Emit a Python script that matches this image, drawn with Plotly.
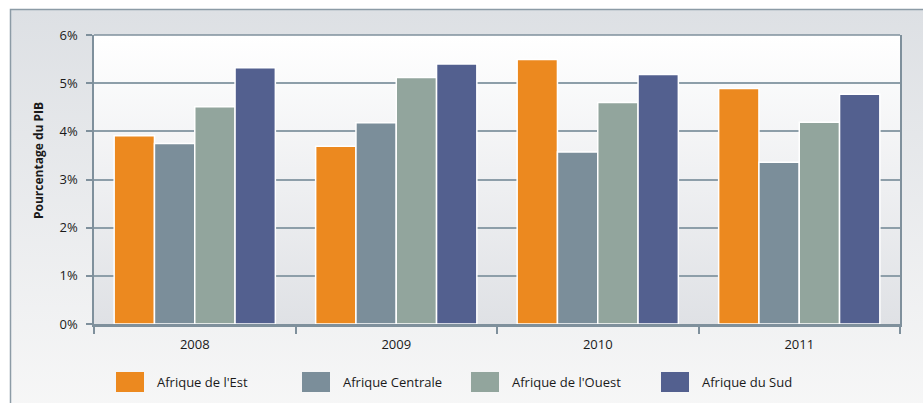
import base64
import plotly.graph_objects as go

# ---- data ----
years = ["2008", "2009", "2010", "2011"]
series_names = ["Afrique de l'Est", "Afrique Centrale", "Afrique de l'Ouest", "Afrique du Sud"]
afrique_est = [3.91, 3.69, 5.49, 4.89]
afrique_centrale = [3.75, 4.18, 3.57, 3.36]
afrique_ouest = [4.51, 5.12, 4.60, 4.19]
afrique_sud = [5.32, 5.40, 5.18, 4.77]
y_ticks = [0, 1, 2, 3, 4, 5, 6]
y_tick_labels = ["0%", "1%", "2%", "3%", "4%", "5%", "6%"]
y_title = "Pourcentage du PIB"

values = [afrique_est, afrique_centrale, afrique_ouest, afrique_sud]
colors = ["#ec891f", "#7b8e9a", "#92a59d", "#53608f"]

# ---- geometry (pixels) ----
W, H = 923, 403
ML, MR, MT, MB = 94, 23, 35, 79
PW, PH = W - ML - MR, H - MT - MB


def xp(px):
    return (px - ML) / PW


def yp(py):
    return (H - MB - py) / PH


AXIS = "#7f909c"
TXT = "#1a1a1a"

svg = f'''<svg xmlns="http://www.w3.org/2000/svg" width="{W}" height="{H}" viewBox="0 0 {W} {H}">
<defs>
<linearGradient id="o" x1="0" y1="0" x2="0" y2="1">
<stop offset="0" stop-color="#dde0e4"/><stop offset="1" stop-color="#f8f8f8"/></linearGradient>
<linearGradient id="p" x1="0" y1="0" x2="0" y2="1">
<stop offset="0" stop-color="#ffffff"/><stop offset="1" stop-color="#dfe1e5"/></linearGradient>
</defs>
<rect x="0" y="0" width="{W}" height="{H}" fill="#ffffff"/>
<rect x="10.5" y="9.5" width="{W + 20}" height="{H + 20}" fill="url(#o)" stroke="#8c9ba6" stroke-width="1.5"/>
<rect x="{ML}" y="{MT}" width="{PW}" height="{PH}" fill="url(#p)"/>
<line x1="{ML}" y1="{MT}" x2="{ML + PW}" y2="{MT}" stroke="{AXIS}" stroke-width="1.5"/>
</svg>'''
src = "data:image/svg+xml;base64," + base64.b64encode(svg.encode()).decode()

fig = go.Figure()
for name, vals, col in zip(series_names, values, colors):
    fig.add_trace(go.Bar(
        x=years, y=vals, name=name,
        marker=dict(color=col, line=dict(color="white", width=1.5)),
        showlegend=False, hoverinfo="skip",
    ))

# custom legend (rectangular swatches)
leg_x = [116, 302, 471, 661]
shapes = []
annotations = []
for lx, name, col in zip(leg_x, series_names, colors):
    shapes.append(dict(type="rect", xref="paper", yref="paper",
                       x0=xp(lx), x1=xp(lx + 28), y0=yp(392), y1=yp(372),
                       fillcolor=col, line=dict(width=0)))
    annotations.append(dict(xref="paper", yref="paper", x=xp(lx + 39), y=yp(382.5),
                            xanchor="left", yanchor="middle", text=name, showarrow=False,
                            font=dict(size=13, color=TXT, family="Open Sans")))

# y-axis title
annotations.append(dict(xref="paper", yref="paper", x=xp(38), y=yp(161),
                        xanchor="center", yanchor="middle", textangle=-90,
                        text=f"<b>{y_title}</b>", showarrow=False,
                        font=dict(size=12, color=TXT, family="Open Sans")))

fig.update_layout(
    width=W, height=H,
    margin=dict(l=ML, r=MR, t=MT, b=MB, autoexpand=False),
    paper_bgcolor="white",
    plot_bgcolor="rgba(0,0,0,0)",
    barmode="group", bargap=0.2, bargroupgap=0,
    font=dict(family="Open Sans", size=13, color=TXT),
    images=[dict(source=src, xref="paper", yref="paper",
                 x=-ML / PW, y=1 + MT / PH, sizex=W / PW, sizey=H / PH,
                 xanchor="left", yanchor="top", sizing="stretch", layer="below")],
    shapes=shapes,
    annotations=annotations,
    xaxis=dict(type="category", categoryorder="array", categoryarray=years,
               showgrid=False, showline=True, linecolor=AXIS, linewidth=2.5,
               ticks="outside", tickson="boundaries", ticklen=7, tickwidth=1.5,
               tickcolor=AXIS, tickfont=dict(size=13, color=TXT),
               ticklabelstandoff=7, fixedrange=True),
    yaxis=dict(range=[0, 6], tickvals=y_ticks, ticktext=y_tick_labels,
               showgrid=True, gridcolor="#8d9ea9", gridwidth=1.5, zeroline=False,
               showline=True, linecolor=AXIS, linewidth=1.5, mirror=True,
               ticks="outside", ticklen=6, tickwidth=1.5, tickcolor=AXIS,
               tickfont=dict(size=13, color=TXT), ticklabelstandoff=6,
               fixedrange=True),
)

fig.write_html("out.html", config={"displayModeBar": False})
